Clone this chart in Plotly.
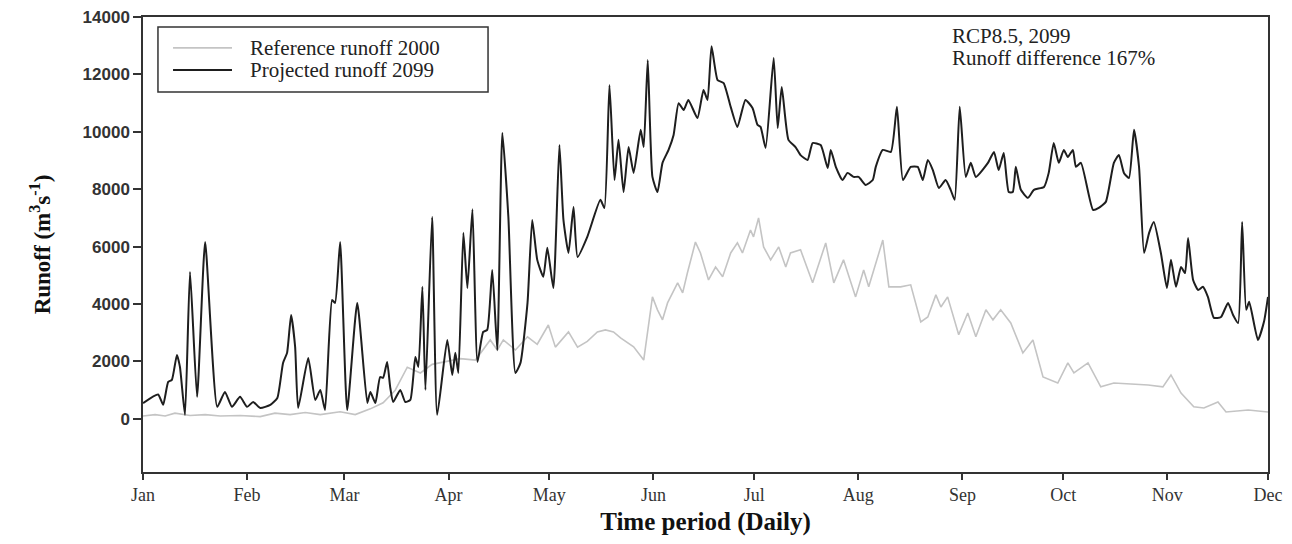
import pandas as pd
import plotly.graph_objects as go

# ---- data (day offsets from 1 Jan 2000, runoff in m3/s) ----
proj_days = [0, 4.5, 6.0, 7.5, 8.6, 10.1, 11.0, 12.5, 14.0, 16.1, 18.5, 22.1, 24.4, 26.5, 28.9, 31.0,
             32.8, 34.9, 37.9, 40.0, 41.7, 42.9, 44.1, 45.3, 46.2, 49.2, 51.3, 52.8, 54.2, 56.3, 57.2,
             58.7, 60.8, 63.8, 66.8, 67.7, 69.2, 70.6, 71.5, 72.7, 73.6, 74.5, 76.6, 78.1, 79.6, 81.1,
             82.0, 83.2, 84.1, 86.1, 87.6, 90.6, 92.1, 93.0, 93.9, 95.4, 96.6, 98.1, 99.6, 101.3, 102.5,
             104.0, 105.5, 107.0, 108.8, 110.9, 112.4, 114.5, 115.9, 117.4, 119.2, 120.4, 122.2, 124.0,
             125.2, 126.7, 128.2, 129.4, 132.3, 136.2, 137.4, 138.9, 140.4, 141.6, 143.1, 144.6, 146.1,
             148.2, 149.1, 150.3, 151.7, 153.2, 154.7, 156.5, 158.0, 159.5, 161.0, 162.4, 165.1, 166.9,
             168.1, 169.3, 171.1, 172.9, 175.0, 177.0, 179.4, 181.5, 183.0, 183.9, 185.4, 187.8, 189.0,
             190.2, 192.2, 194.3, 195.8, 197.9, 199.4, 201.8, 203.9, 204.8, 206.3, 208.3, 209.8, 211.6,
             213.1, 215.2, 217.3, 218.2, 220.3, 222.7, 224.5, 226.3, 228.6, 230.7, 232.2, 233.7, 235.2,
             237.0, 239.0, 240.5, 241.7, 243.2, 245.0, 246.5, 248.0, 251.6, 253.4, 254.8, 256.3, 257.8,
             259.0, 259.9, 261.4, 263.5, 265.3, 268.3, 269.7, 271.2, 272.7, 274.2, 275.4, 276.9, 277.8,
             279.3, 282.9, 284.6, 286.7, 289.1, 290.6, 292.1, 293.6, 295.1, 296.6, 298.1, 299.6, 301.0,
             303.1, 304.9, 306.1, 307.6, 309.1, 310.3, 311.2, 312.7, 314.2, 315.6, 317.1, 318.9, 321.0,
             323.1, 324.6, 326.1, 327.3, 328.5, 329.4, 332.0, 333.8, 335.0]
proj_runoff = [550, 850, 490, 1290, 1360, 2230, 1810, 140, 5120, 770, 6160, 420, 940, 420, 770, 420,
               590, 380, 490, 730, 1950, 2300, 3620, 2510, 380, 2120, 660, 1010, 310, 4140, 4040,
               6160, 310, 4040, 557, 940, 557, 1460, 1430, 1985, 1115, 590, 1010, 590, 660, 2160,
               1810, 4600, 1010, 7030, 140, 2750, 1530, 2300, 1600, 6480, 4560, 7300, 1985, 3030, 3100,
               5190, 2400, 9960, 7030, 1600, 1950, 4040, 6930, 5540, 4950, 5960, 4560, 9540,
               6930, 5780, 7380, 5640, 6340, 7630, 7350, 11630, 8320, 9720, 7900, 9470, 8570,
               10070, 9470, 12500, 8430, 7900, 8920, 9370, 9890, 11000, 10760, 11110, 10480, 11460,
               11110, 12980, 11800, 11700, 10870, 10170, 11110, 10830, 10240, 10170, 9440, 12570, 10130,
               11560, 9720, 9470, 9190, 9020, 9610, 9540, 8740, 9370, 8780, 8320, 8570, 8430,
               8430, 8150, 8320, 8780, 9370, 9300, 10870, 8320, 8780, 8780, 8320, 9020, 8670,
               8040, 8320, 7980, 7630, 10870, 8430, 8920, 8430, 8920, 9300, 8670, 9260, 7900,
               7900, 8780, 7980, 7700, 7980, 8080, 8570, 9610, 8920, 9370, 9120, 9370, 8780,
               8920, 7280, 7350, 7560, 8920, 9190, 8570, 8390, 10070, 8780, 5780, 6480, 6860,
               5780, 4560, 5540, 4600, 5290, 5080, 6300, 4840, 4490, 4600, 4250, 3520, 3550,
               4040, 3620, 3340, 6860, 3800, 4080, 2750, 3380, 4250]

ref_days = [0, 3.6, 6.6, 9.5, 14.0, 18.5, 23.0, 28.9, 34.9, 39.3, 43.8, 48.3, 52.8, 58.7, 63.2, 67.7,
            71.5, 75.1, 78.7, 82.6, 86.1, 90.0, 94.5, 99.0, 103.4, 105.5, 107.3, 110.9, 114.5, 117.4,
            120.7, 122.8, 126.7, 129.4, 132.3, 135.3, 137.7, 140.1, 142.2, 146.1, 149.1, 151.7, 153.2,
            154.7, 156.2, 159.2, 160.7, 162.1, 164.5, 166.0, 168.4, 170.5, 172.6, 175.0, 177.0, 178.5,
            180.9, 181.8, 183.3, 184.8, 186.9, 189.3, 191.4, 192.8, 195.8, 199.4, 203.3, 205.7, 208.6,
            212.2, 214.6, 216.1, 220.3, 222.1, 225.6, 228.6, 231.6, 233.7, 236.1, 237.6, 239.6, 242.9,
            245.6, 248.0, 251.0, 253.1, 255.4, 258.4, 262.0, 265.0, 268.0, 272.4, 275.4, 277.2, 281.4,
            285.2, 289.1, 299.3, 303.7, 306.1, 309.1, 312.9, 315.9, 320.1, 322.5, 329.1, 335.0]
ref_runoff = [100, 150, 100, 200, 120, 150, 100, 120, 80, 200, 150, 220, 150, 250, 150, 350,
              560, 1000, 1800, 1600, 1900, 2000, 2100, 2050, 2750, 2400, 2750, 2400, 2860, 2600,
              3270, 2500, 3030, 2500, 2700, 3030, 3100, 3030, 2820, 2510, 2050, 4250, 3800,
              3450, 4040, 4740, 4390, 5080, 6160, 5780, 4840, 5290, 4950, 5780, 6130, 5780,
              6580, 6340, 7000, 5990, 5540, 5990, 5290, 5780, 5890, 4740, 6130, 4740, 5540,
              4250, 5190, 4600, 6230, 4600, 4600, 4670, 3380, 3550, 4320, 3900, 4250, 2930,
              3690, 2860, 3800, 3450, 3800, 3340, 2300, 2750, 1460, 1250, 1950, 1600, 1950,
              1115, 1250, 1180, 1115, 1530, 900, 420, 380, 590, 240, 310, 240]

series_names = ["Reference runoff 2000", "Projected runoff 2099"]
series_colors = ["#c4c4c4", "#1e1e1e"]
y_ticks = [0, 2000, 4000, 6000, 8000, 10000, 12000, 14000]
month_labels = ["Jan", "Feb", "Mar", "Apr", "May", "Jun", "Jul", "Aug", "Sep", "Oct", "Nov", "Dec"]
note_lines = ["RCP8.5, 2099", "Runoff difference 167%"]

start = pd.Timestamp("2000-01-01")
proj_x = start + pd.to_timedelta(proj_days, unit="D")
ref_x = start + pd.to_timedelta(ref_days, unit="D")
month_starts = pd.date_range("2000-01-01", periods=12, freq="MS")

SERIF = "Liberation Serif, Times New Roman, serif"

fig = go.Figure()
fig.add_trace(go.Scatter(x=ref_x, y=ref_runoff, mode="lines", name=series_names[0],
                         line=dict(color=series_colors[0], width=1.6)))
fig.add_trace(go.Scatter(x=proj_x, y=proj_runoff, mode="lines", name=series_names[1],
                         line=dict(color=series_colors[1], width=2, shape="spline", smoothing=0.5)))

# legend drawn as a framed box with line samples and labels (paper coordinates)
leg_x0, leg_x1, leg_y0, leg_y1 = 0.0133, 0.3067, 0.835, 0.978
row_y = [0.932, 0.8835]
shapes = [dict(type="rect", xref="paper", yref="paper", x0=leg_x0, x1=leg_x1, y0=leg_y0, y1=leg_y1,
               line=dict(color="#333", width=1.5), fillcolor="white", layer="above")]
annotations = []
for name, color, ry, w in zip(series_names, series_colors, row_y, [1.8, 2.2]):
    shapes.append(dict(type="line", xref="paper", yref="paper", x0=0.0267, x1=0.0791, y0=ry, y1=ry,
                       line=dict(color=color, width=w), layer="above"))
    annotations.append(dict(xref="paper", yref="paper", x=0.0933, y=ry, xanchor="left",
                            yanchor="middle", showarrow=False, text=name,
                            font=dict(family=SERIF, size=21, color="#222")))

annotations += [
    dict(xref="paper", yref="paper", x=0.717, y=0.958, xanchor="left", yanchor="middle",
         align="left", showarrow=False, text=note_lines[0],
         font=dict(family=SERIF, size=21, color="#222")),
    dict(xref="paper", yref="paper", x=0.717, y=0.910, xanchor="left", yanchor="middle",
         align="left", showarrow=False, text=note_lines[1],
         font=dict(family=SERIF, size=21, color="#222")),
]

fig.update_layout(
    width=1292, height=544,
    margin=dict(l=143, r=24, t=17, b=72, autoexpand=False),
    paper_bgcolor="white", plot_bgcolor="white",
    showlegend=False,
    shapes=shapes,
    annotations=annotations,
)
fig.update_xaxes(
    range=[month_starts[0], month_starts[-1]],
    tickvals=month_starts, ticktext=month_labels,
    ticks="outside", ticklen=6, tickcolor="#333", tickwidth=1.5,
    showline=True, linecolor="#333", linewidth=1.5, mirror=True,
    showgrid=False, zeroline=False, automargin=False,
    tickfont=dict(family=SERIF, size=18, color="#333"),
    title=dict(text="<b>Time period (Daily)</b>", font=dict(family=SERIF, size=25, color="#111"),
               standoff=8),
)
fig.update_yaxes(
    range=[-1850, 14000],
    tickvals=y_ticks, tickformat="d",
    ticks="outside", ticklen=8, tickcolor="#333", tickwidth=1.5,
    showline=True, linecolor="#333", linewidth=1.5, mirror=True,
    showgrid=False, zeroline=False, automargin=False,
    tickfont=dict(family="Liberation Sans, Arial, sans-serif", size=17, color="#333", weight="bold"),
    title=dict(text="<b>Runoff (m<sup>3</sup>s<sup>-1</sup>)</b>",
               font=dict(family=SERIF, size=23, color="#111"), standoff=26),
)

fig.write_html("out.html", config={"displayModeBar": False},
               post_script="document.body.style.margin='0';")
